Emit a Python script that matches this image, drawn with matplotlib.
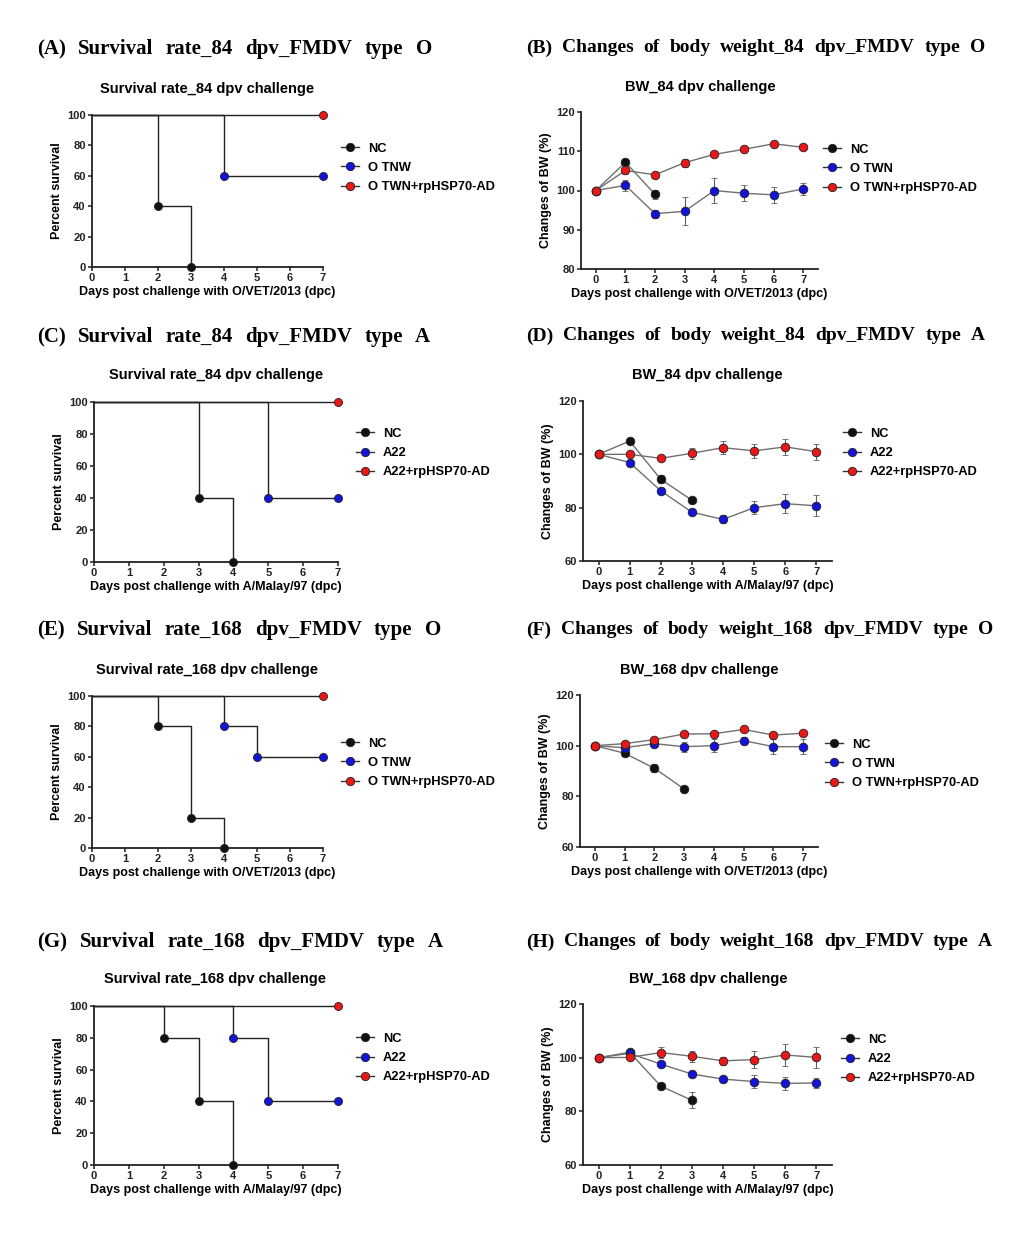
import numpy as np
import matplotlib
matplotlib.use("Agg")
import matplotlib.pyplot as plt
from matplotlib.lines import Line2D

plt.rcParams['font.family'] = ['Liberation Sans', 'DejaVu Sans']
plt.rcParams['font.weight'] = 'bold'

W, H = 1023, 1233

# ---------------- data ----------------
days = [0, 1, 2, 3, 4, 5, 6, 7]

# survival (Kaplan-Meier steps): event days and percent survival
A_nc_t, A_nc_v = [0, 2, 3], [100, 40, 0]
A_vac_t, A_vac_v = [0, 4, 7], [100, 60, 60]
A_hsp_t, A_hsp_v = [0, 7], [100, 100]

C_nc_t, C_nc_v = [0, 3, 4], [100, 40, 0]
C_vac_t, C_vac_v = [0, 5, 7], [100, 40, 40]
C_hsp_t, C_hsp_v = [0, 7], [100, 100]

E_nc_t, E_nc_v = [0, 2, 3, 4], [100, 80, 20, 0]
E_vac_t, E_vac_v = [0, 4, 5, 7], [100, 80, 60, 60]
E_hsp_t, E_hsp_v = [0, 7], [100, 100]

G_nc_t, G_nc_v = [0, 2, 3, 4], [100, 80, 40, 0]
G_vac_t, G_vac_v = [0, 4, 5, 7], [100, 80, 40, 40]
G_hsp_t, G_hsp_v = [0, 7], [100, 100]

# body weight (% of day 0), mean and SEM
B_nc = [100, 107.2, 99.0]
B_nc_err = [0, 0.8, 1.2]
B_vac = [100, 101.3, 94.1, 94.7, 100.0, 99.3, 98.9, 100.4]
B_vac_err = [0, 1.5, 1.0, 3.6, 3.2, 2.0, 2.0, 1.5]
B_hsp = [100, 105.1, 104.0, 107.1, 109.2, 110.5, 111.9, 111.0]
B_hsp_err = [0, 1.0, 0.5, 1.0, 0.5, 0.5, 0.6, 0.8]

D_nc = [100, 105.0, 90.6, 82.8]
D_nc_err = [0, 0.5, 1.5, 0.5]
D_vac = [100, 96.9, 86.3, 78.3, 75.6, 80.0, 81.5, 80.7]
D_vac_err = [0, 1.0, 1.2, 1.0, 1.5, 2.5, 3.5, 4.0]
D_hsp = [100, 100.0, 98.5, 100.4, 102.5, 101.3, 102.8, 101.0]
D_hsp_err = [0, 0.5, 1.0, 2.0, 2.5, 2.5, 3.0, 3.0]

F_nc = [100, 97.0, 91.1, 82.9]
F_nc_err = [0, 1.0, 1.5, 0.5]
F_vac = [100, 99.2, 100.8, 99.6, 100.0, 102.0, 99.6, 99.6]
F_vac_err = [0, 1.0, 1.0, 2.0, 2.5, 1.5, 3.0, 3.0]
F_hsp = [100, 100.8, 102.4, 104.6, 104.7, 106.4, 104.2, 104.9]
F_hsp_err = [0, 0.5, 0.5, 0.5, 0.5, 0.5, 0.5, 0.8]

H_nc = [100, 102.0, 89.4, 84.1]
H_nc_err = [0, 0.5, 0.8, 3.0]
H_vac = [100, 101.6, 97.6, 93.9, 92.0, 91.1, 90.4, 90.6]
H_vac_err = [0, 0.5, 1.0, 1.0, 1.0, 2.5, 2.5, 2.0]
H_hsp = [100, 100.1, 101.9, 100.5, 98.8, 99.3, 101.0, 100.1]
H_hsp_err = [0, 0.5, 2.0, 2.0, 1.5, 3.0, 4.0, 4.0]

labels_O_surv = ['NC', 'O TNW', 'O TWN+rpHSP70-AD']
labels_O_bw = ['NC', 'O TWN', 'O TWN+rpHSP70-AD']
labels_A = ['NC', 'A22', 'A22+rpHSP70-AD']

xlab_O = 'Days post challenge with O/VET/2013 (dpc)'
xlab_A = 'Days post challenge with A/Malay/97 (dpc)'

colors = ['#111111', '#1414d8', '#e81818']

fig = plt.figure(figsize=(W / 100, H / 100), dpi=100)
renderer = fig.canvas.get_renderer()


def px_axes(l, t, r, b):
    return fig.add_axes([l / W, 1 - b / H, (r - l) / W, (b - t) / H])


def header(text, x0, x1, y, size=15):
    # words spread over the width like the justified captions
    words = text.split()
    objs = [fig.text(0, 0, w, fontsize=size, family=['Liberation Serif', 'DejaVu Serif'],
                     weight='bold', va='center', ha='left') for w in words]
    widths = [o.get_window_extent(renderer).width for o in objs]
    gap = ((x1 - x0) - sum(widths)) / (len(words) - 1)
    x = x0
    for o, w in zip(objs, widths):
        o.set_position((x / W, 1 - y / H))
        x += w + gap


def style(ax, title, tx, ty, xlab, ylab):
    for s in ['top', 'right']:
        ax.spines[s].set_visible(False)
    for s in ['left', 'bottom']:
        ax.spines[s].set_linewidth(1.3)
        ax.spines[s].set_color('#222222')
    ax.tick_params(direction='out', length=3, width=1.1, labelsize=8, pad=1.5, colors='#222222')
    for lab in ax.get_xticklabels() + ax.get_yticklabels():
        lab.set_fontweight('bold')
    ax.set_xlabel(xlab, fontsize=9, fontweight='bold', labelpad=2)
    ax.set_ylabel(ylab, fontsize=9, fontweight='bold', labelpad=3)
    fig.text(tx / W, 1 - ty / H, title, fontsize=10.5, fontweight='bold', ha='center', va='center')


def legend(ax, labels, lx, ly):
    handles = [Line2D([], [], color='#333333', lw=1.0, marker='o', mfc=c, mec='#222222',
                      mew=0.6, ms=6) for c in colors]
    ax.legend(handles, labels, loc='center left', bbox_to_anchor=(lx / W, 1 - ly / H),
              bbox_transform=fig.transFigure, frameon=False,
              handlelength=1.4, handletextpad=0.7, labelspacing=0.55, borderpad=0,
              borderaxespad=0, prop={'weight': 'bold', 'size': 9.3})


def survival(rect, series, labels, title, tx, ty, xlab, lx, ly):
    ax = px_axes(*rect)
    for (t, v), c in zip(series, colors):
        ax.step(t, v, where='post', color='#222222', lw=1.0, clip_on=False)
        ax.plot(t[1:], v[1:], 'o', color=c, mec='#222222', mew=0.6, ms=5.8,
                clip_on=False, zorder=5)
    ax.set_xlim(0, 7)
    ax.set_ylim(0, 100)
    ax.set_xticks(days)
    ax.set_yticks([0, 20, 40, 60, 80, 100])
    style(ax, title, tx, ty, xlab, 'Percent survival')
    legend(ax, labels, lx, ly)
    return ax


def bodyweight(rect, series, labels, title, tx, ty, xlab, ylim, yticks, lx, ly):
    ax = px_axes(*rect)
    for (m, e), c in zip(series, colors):
        x = days[:len(m)]
        ax.errorbar(x, m, yerr=e, fmt='-o', color='#707070', ecolor='#606060', elinewidth=0.8,
                    capsize=2, capthick=0.8, lw=1.0, mfc=c, mec='#222222', mew=0.6, ms=6.2,
                    clip_on=False)
    ax.set_xlim(-0.5, 7.5)
    ax.set_ylim(*ylim)
    ax.set_xticks(days)
    ax.set_yticks(yticks)
    style(ax, title, tx, ty, xlab, 'Changes of BW (%)')
    legend(ax, labels, lx, ly)
    return ax


# headers
header('(A) Survival rate_84 dpv_FMDV type O', 37, 432, 49)
header('(B) Changes of body weight_84 dpv_FMDV type O', 526, 985, 48, 14)
header('(C) Survival rate_84 dpv_FMDV type A', 37, 430, 337)
header('(D) Changes of body weight_84 dpv_FMDV type A', 526, 985, 336, 14)
header('(E) Survival rate_168 dpv_FMDV type O', 37, 441, 630)
header('(F) Changes of body weight_168 dpv_FMDV type O', 526, 993, 630, 14)
header('(G) Survival rate_168 dpv_FMDV type A', 37, 443, 942)
header('(H) Changes of body weight_168 dpv_FMDV type A', 526, 992, 942, 14)

survival((92, 115, 323, 267), [(A_nc_t, A_nc_v), (A_vac_t, A_vac_v), (A_hsp_t, A_hsp_v)],
         labels_O_surv, 'Survival rate_84 dpv challenge', 207, 89, xlab_O, 341, 168)
survival((94, 402, 338, 562), [(C_nc_t, C_nc_v), (C_vac_t, C_vac_v), (C_hsp_t, C_hsp_v)],
         labels_A, 'Survival rate_84 dpv challenge', 216, 375, xlab_A, 356, 453)
survival((92, 696, 323, 848), [(E_nc_t, E_nc_v), (E_vac_t, E_vac_v), (E_hsp_t, E_hsp_v)],
         labels_O_surv, 'Survival rate_168 dpv challenge', 207, 670, xlab_O, 341, 763)
survival((94, 1006, 338, 1165), [(G_nc_t, G_nc_v), (G_vac_t, G_vac_v), (G_hsp_t, G_hsp_v)],
         labels_A, 'Survival rate_168 dpv challenge', 215, 979, xlab_A, 356, 1058)

bodyweight((581, 112, 818, 269), [(B_nc, B_nc_err), (B_vac, B_vac_err), (B_hsp, B_hsp_err)],
           labels_O_bw, 'BW_84 dpv challenge', 700, 87, xlab_O, (80, 120), [80, 90, 100, 110, 120], 823, 169)
bodyweight((583, 401, 832, 561), [(D_nc, D_nc_err), (D_vac, D_vac_err), (D_hsp, D_hsp_err)],
           labels_A, 'BW_84 dpv challenge', 707, 375, xlab_A, (60, 120), [60, 80, 100, 120], 843, 453)
bodyweight((580, 695, 818, 847), [(F_nc, F_nc_err), (F_vac, F_vac_err), (F_hsp, F_hsp_err)],
           labels_O_bw, 'BW_168 dpv challenge', 699, 670, xlab_O, (60, 120), [60, 80, 100, 120], 825, 764)
bodyweight((583, 1004, 832, 1165), [(H_nc, H_nc_err), (H_vac, H_vac_err), (H_hsp, H_hsp_err)],
           labels_A, 'BW_168 dpv challenge', 708, 979, xlab_A, (60, 120), [60, 80, 100, 120], 841, 1059)

fig.savefig('out.png', dpi=100)
